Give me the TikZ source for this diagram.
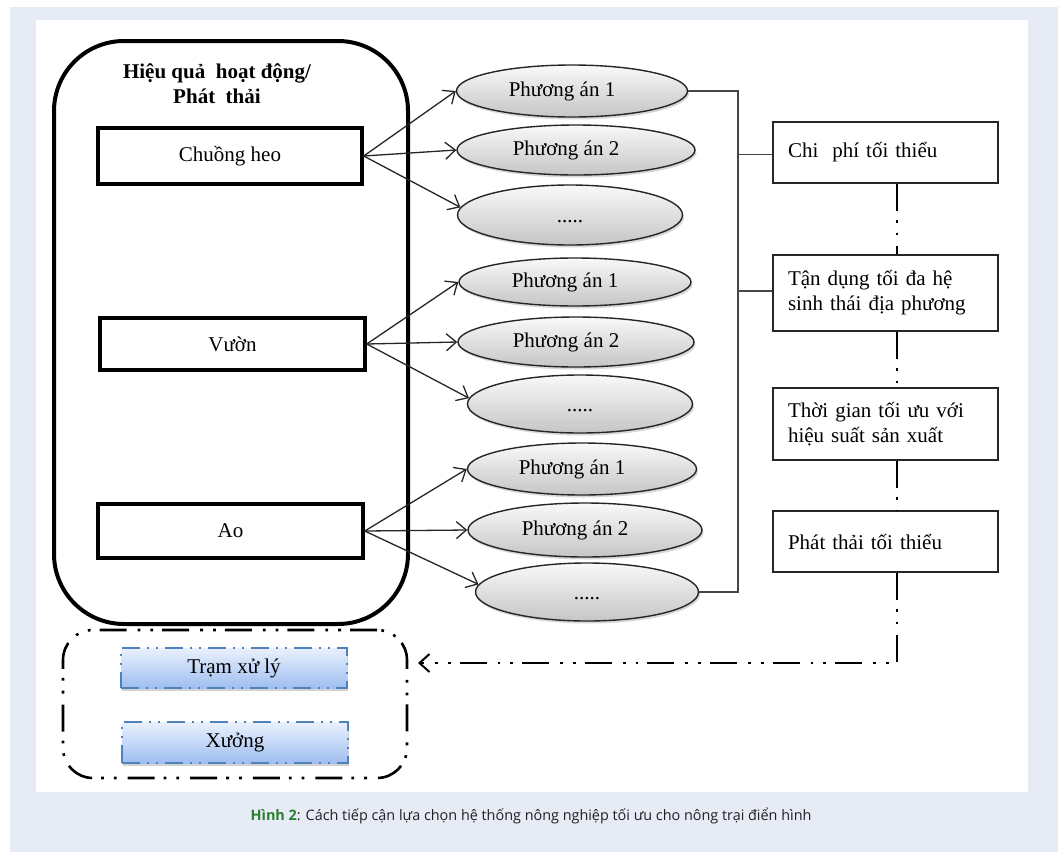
\documentclass[tikz,border=0pt]{standalone}
\usepackage{fontspec}
\setmainfont{Liberation Serif}
\newfontfamily\capfont{Open Sans}
\usetikzlibrary{arrows.meta,shapes.geometric,shadows,calc}

\definecolor{pagebg}{RGB}{231,235,246}
\definecolor{capgreen}{RGB}{40,128,48}
\definecolor{captext}{RGB}{35,31,32}
\definecolor{wireclr}{RGB}{70,70,70}
\definecolor{siteblue}{RGB}{79,129,189}
\definecolor{sitetop}{RGB}{234,241,253}
\definecolor{sitebot}{RGB}{158,190,240}

% option label, set a little left of the ellipse centre
\newcommand{\optlabel}[1]{#1\rule{20pt}{0pt}}
\newcommand{\moreopts}{\raisebox{-7pt}[0pt][0pt]{.....}}

\tikzset{
  txt/.style={font=\fontsize{21}{25}\selectfont},
  unitbox/.style={draw, line width=3.5pt, fill=white, txt, inner sep=0pt},
  optell/.style={ellipse, draw=black!85, line width=1.4pt, top color=gray!5,
    bottom color=gray!45, inner sep=0pt, txt,
    drop shadow={shadow xshift=1.5pt, shadow yshift=-2.5pt, opacity=0.3}},
  goalbox/.style={draw=black!85, line width=1.4pt, fill=white, txt, align=left,
    text width=195pt, inner xsep=15pt, inner ysep=0pt},
  sitebox/.style={draw=siteblue, line width=2.2pt, top color=sitetop, bottom color=sitebot,
    dash pattern=on 18pt off 7pt on 2pt off 7pt on 2pt off 7pt,
    minimum width=226pt, inner sep=0pt, txt,
    drop shadow={shadow xshift=1pt, shadow yshift=-2.5pt, opacity=0.35}},
  choice/.style={line width=1.3pt, black!85, -{Straight Barb[length=10pt,width=17pt]}},
  bus/.style={line width=1.5pt, wireclr},
  ddot/.style={line width=2.6pt, dash pattern=on 27pt off 9pt on 2.8pt off 10pt on 2.8pt off 11pt}
}

\begin{document}
\begin{tikzpicture}[x=1pt,y=-1pt]
  \useasboundingbox (0,0) rectangle (1058,852);
  % page and figure panel
  \fill[white] (0,0) rectangle (1058,852);
  \fill[pagebg] (10,7) rectangle (1058,852);
  \fill[white] (36,20) rectangle (1028,792);

  % farm units frame
  \node[draw, line width=4pt, rounded corners=70pt, minimum width=354pt, minimum height=583pt,
        inner sep=0pt] (farm) at (231,332.5) {};
  \node[txt, font=\bfseries\fontsize{21}{25}\selectfont, align=center] (title) at (217,84)
       {Hiệu quả\ \ hoạt động/\\Phát\ \ thải};

  \node[unitbox, minimum width=264pt, minimum height=56pt] (chuong) at (230,156) {Chuồng heo};
  \node[unitbox, minimum width=265pt, minimum height=52pt] (vuon) at (232.5,344) {Vườn};
  \node[unitbox, minimum width=265pt, minimum height=54pt] (ao) at (230.5,531) {Ao};

  % options
  \node[optell, minimum width=231pt, minimum height=52pt] (e1) at (572,91) {\optlabel{Phương án 1}};
  \node[optell, minimum width=238pt, minimum height=50pt] (e2) at (576,150) {\optlabel{Phương án 2}};
  \node[optell, minimum width=225pt, minimum height=60pt] (e3) at (570,215) {\moreopts};

  \node[optell, minimum width=232pt, minimum height=48pt] (e4) at (575,282) {\optlabel{Phương án 1}};
  \node[optell, minimum width=236pt, minimum height=50pt] (e5) at (576,342) {\optlabel{Phương án 2}};
  \node[optell, minimum width=225pt, minimum height=58pt] (e6) at (580,404) {\moreopts};

  \node[optell, minimum width=229pt, minimum height=52pt] (e7) at (582,469) {\optlabel{Phương án 1}};
  \node[optell, minimum width=234pt, minimum height=54pt] (e8) at (585,530) {\optlabel{Phương án 2}};
  \node[optell, minimum width=223pt, minimum height=58pt] (e9) at (587,592) {\moreopts};

  % unit to option arrows
  \draw[choice] (chuong.east) -- (e1.west);
  \draw[choice] (chuong.east) -- (e2.west);
  \draw[choice] (chuong.east) -- (e3.176);
  \draw[choice] (vuon.east) -- (e4.west);
  \draw[choice] (vuon.east) -- (e5.west);
  \draw[choice] (vuon.east) -- (e6.177);
  \draw[choice] (ao.east) -- (e7.west);
  \draw[choice] (ao.east) -- (e8.west);
  \draw[choice] (ao.east) -- (e9.176);

  % objectives
  \node[goalbox, minimum height=61pt] (chi) at (885.5,152.5) {Chi\ \ phí tối thiểu};
  \node[goalbox, minimum height=76pt] (tan) at (885.5,293) {Tận dụng tối đa hệ\\sinh thái địa phương};
  \node[goalbox, minimum height=72pt] (thoi) at (885.5,424) {Thời gian tối ưu với\\hiệu suất sản xuất};
  \node[goalbox, minimum height=61pt] (phat) at (885.5,541.5) {Phát thải tối thiểu};

  % bus joining options to objectives
  \coordinate (bustop) at (738,91);
  \draw[bus] (e1.east) -- (bustop) |- (e9.east);
  \draw[bus] ($(chi.west)+(0,2)$) -- ($(chi.west -| bustop)+(0,2)$);
  \draw[bus] ($(tan.west)+(0,-2)$) -- ($(tan.west -| bustop)+(0,-2)$);

  % objective chain
  \coordinate (colx) at (897,0);
  \draw[ddot] (chi.south -| colx) -- (tan.north -| colx);
  \draw[ddot] (tan.south -| colx) -- (thoi.north -| colx);
  \draw[ddot] (thoi.south -| colx) -- (phat.north -| colx);

  % treatment sites
  \node[draw, ddot, rounded corners=30pt, minimum width=344pt, minimum height=148pt,
        inner sep=0pt] (aux) at (235,704) {};
  \node[sitebox, minimum height=40pt] (tram) at (234,668) {Trạm xử lý};
  \node[sitebox, minimum height=41pt] (xuong) at (235,742.5) {Xưởng};

  \coordinate (tip) at (418,663);
  \draw[ddot, -{Straight Barb[length=10pt,width=18pt,line width=2pt]}] (phat.south -| colx) |- (tip);

  % caption
  \node[font=\capfont\fontsize{14.4}{17}\selectfont, text=captext] (cap) at (531,816)
       {\textcolor{capgreen}{\bfseries Hình 2}: Cách tiếp cận lựa chọn hệ thống nông nghiệp tối ưu cho nông trại điển hình};
\end{tikzpicture}
\end{document}
